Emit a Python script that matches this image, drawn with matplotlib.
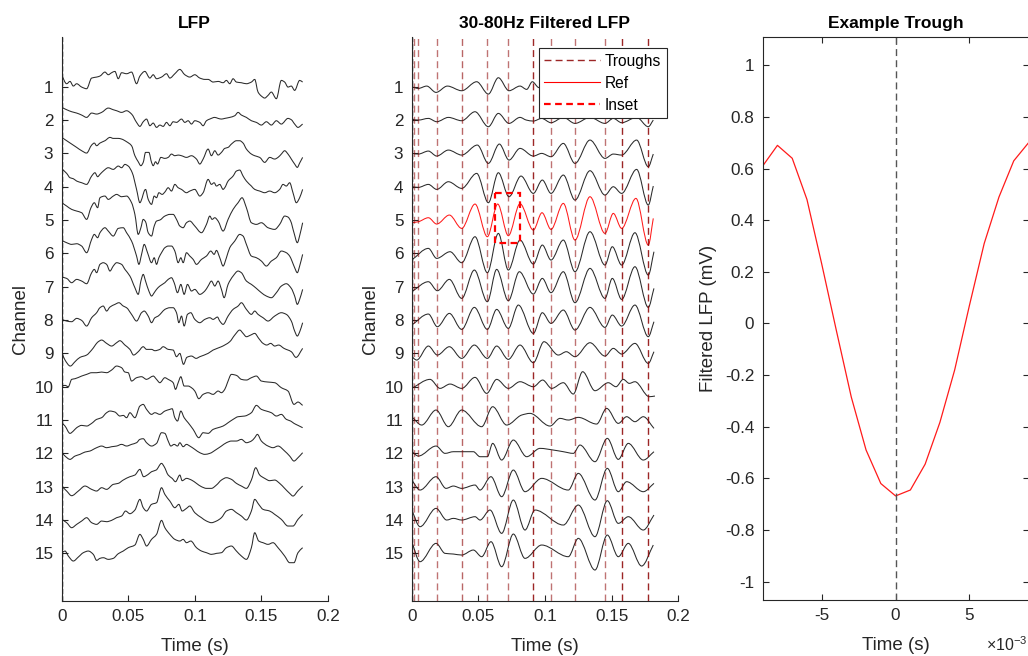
import numpy as np
import matplotlib.pyplot as plt
from matplotlib.path import Path
from matplotlib.patches import PathPatch, Rectangle
from matplotlib.lines import Line2D
from matplotlib.ticker import FuncFormatter

plt.rcParams['font.family'] = ['Liberation Sans', 'DejaVu Sans']
plt.rcParams['axes.unicode_minus'] = False
plt.rcParams['mathtext.default'] = 'regular'

# ---------------- data ----------------
channels = list(range(1, 16))
ref_channel = 5

# raw LFP knots: (time in ms, deflection in channel spacings, up = positive)
raw_01 = [(0, 0.34), (3.75, 0.09), (6.25, 0.16), (8.75, 0.02), (11.25, 0.09), (15, -0.01), (18.75, -0.06), (22.5, 0.26), (26.25, 0.29), (28.75, 0.32), (32.5, 0.44), (35, 0.36), (37.5, 0.42), (40, 0.46), (42.5, 0.24), (45, 0.42), (48.75, 0.39), (52.5, 0.44), (56.25, 0.09), (58.75, 0.32), (62.5, 0.46), (66.25, 0.26), (68.75, 0.36), (71.25, 0.24), (75, 0.29), (78.75, 0.39), (81.25, 0.26), (85, 0.39), (88.75, 0.52), (92.5, 0.36), (96.25, 0.29), (100, 0.36), (103.75, 0.26), (107.5, 0.22), (110, 0.22), (113.75, 0.14), (117.5, 0.16), (121.25, 0.12), (123.75, 0.19), (126.25, 0.09), (128.75, 0.24), (131.25, 0.14), (135, 0.12), (138.75, 0.09), (142.5, 0.14), (145, 0.22), (147.5, -0.16), (150, -0.28), (152.5, -0.34), (155, -0.26), (157.5, -0.16), (161.25, -0.36), (165, 0.19), (167.5, 0.14), (170, -0.01), (172.5, 0.02), (175, -0.11), (178.75, 0.19), (181, 0.14)]
raw_02 = [(0, 0.38), (3.75, 0.31), (7.5, 0.25), (11.25, 0.21), (15, 0.15), (18.75, 0.08), (22.5, 0.21), (26.25, 0.18), (30, 0.23), (35, 0.36), (38.75, 0.31), (41.25, 0.28), (45, 0.23), (48.75, 0.28), (52.5, 0.18), (56.25, -0.07), (58.75, -0.19), (61.25, -0.05), (63.75, 0.03), (66.25, -0.17), (68.75, -0.09), (71.25, -0.22), (73.75, -0.15), (76.25, -0.19), (78.75, -0.07), (81.25, -0.17), (83.75, -0.05), (86.25, -0.07), (90, 0.03), (92.5, -0.07), (95, -0.02), (97.5, -0.12), (100, -0.02), (103.75, -0.07), (106.25, -0.17), (108.75, -0.02), (111.25, 0.03), (115, 0.08), (117.5, 0.05), (120, 0.03), (122.5, 0.05), (126.25, 0.08), (130, 0.13), (132.5, 0.23), (135, 0.15), (138.75, 0.08), (142.5, -0.02), (146.25, -0.07), (150, -0.15), (153.75, -0.05), (157.5, -0.15), (161.25, -0.02), (165, -0.12), (170, 0.05), (172.5, 0.01), (175, -0.12), (177.5, -0.22), (181, -0.12)]
raw_03 = [(0, 0.48), (3.75, 0.38), (7.5, 0.28), (11.25, 0.18), (15, 0.08), (18.75, 0.01), (22.5, 0.25), (24.5, 0.31), (26.25, 0.23), (28.75, 0.31), (32.5, 0.38), (36.25, 0.48), (38.75, 0.45), (42.5, 0.45), (45, 0.43), (48.75, 0.35), (52.5, 0.23), (55, -0.07), (57.5, -0.25), (59.5, -0.37), (61.25, -0.27), (63, 0.03), (65.5, 0.03), (67.5, -0.27), (68.75, -0.37), (70.5, -0.25), (72, -0.32), (74.5, -0.12), (77.5, -0.15), (80, -0.12), (82.5, -0.02), (85, -0.07), (87.5, -0.05), (90, -0.07), (93.75, -0.12), (97.5, -0.07), (101.25, -0.17), (103.75, -0.32), (106.25, -0.17), (110, 0.13), (112.5, -0.07), (115, 0.08), (117.5, -0.05), (120, 0.03), (122.5, 0.15), (125, 0.18), (127.5, 0.28), (131.25, 0.38), (133.75, 0.38), (136.25, 0.31), (138.75, 0.13), (142.5, -0.02), (145, -0.07), (148.75, -0.12), (152.5, -0.27), (156.25, -0.12), (160, -0.17), (162.5, -0.12), (165, -0.02), (167.5, 0.08), (170, -0.02), (172.5, -0.17), (175, -0.32), (177, -0.42), (178.75, -0.29), (181, -0.12)]
raw_04 = [(0, 0.54), (3.75, 0.4), (6.25, 0.27), (8.75, 0.24), (11.25, 0.17), (15, 0.12), (18.75, 0.07), (22.5, 0.32), (25, 0.42), (27, 0.3), (28.75, 0.37), (31.25, 0.47), (35, 0.57), (38.75, 0.52), (42.5, 0.62), (45, 0.57), (47.5, 0.67), (50, 0.62), (53, 0.42), (56.25, -0.08), (58.75, -0.48), (60.5, -0.33), (62, -0.13), (63, -0.08), (65, -0.38), (67.5, -0.53), (69.5, -0.28), (71.25, -0.33), (73, -0.18), (75.5, -0.23), (77.5, -0.16), (80, -0.03), (82.5, -0.13), (85, 0.07), (87.5, -0.03), (90, -0.08), (93.75, -0.18), (96.25, -0.13), (100, -0.08), (103.75, -0.28), (106.25, -0.18), (110, 0.22), (112.5, 0.07), (114.5, 0.12), (116.25, 0.02), (118.75, 0.07), (121.25, -0.08), (122.5, -0.03), (125, 0.17), (128.75, 0.32), (131.25, 0.47), (133.75, 0.5), (136.25, 0.32), (138.75, 0.17), (142.5, 0.02), (145, -0.08), (148.75, -0.13), (152.5, -0.18), (156.25, -0.13), (160, -0.18), (163.75, -0.08), (166.25, 0.07), (168.75, 0.02), (171.25, 0.12), (173.75, -0.18), (176.25, -0.48), (178.75, -0.33), (181, -0.08)]
raw_05 = [(0, 0.52), (3.75, 0.42), (7.5, 0.32), (11.25, 0.27), (15, 0.22), (18.75, 0.02), (22, 0.37), (24.5, 0.52), (27, 0.37), (28.75, 0.67), (32.5, 0.72), (35, 0.62), (38.75, 0.72), (41.25, 0.77), (45, 0.7), (48.75, 0.72), (52.5, 0.52), (55, 0.17), (57.5, -0.43), (59.5, -0.23), (61.25, 0.02), (63, -0.05), (65, -0.38), (67.5, -0.48), (69.5, -0.18), (71.25, -0.03), (73.75, 0.0), (77.5, 0.12), (81.25, 0.17), (83.75, 0.17), (86.25, 0.02), (88.75, -0.18), (91.25, -0.23), (93.75, -0.08), (96.25, -0.03), (100, -0.18), (105, -0.38), (108.75, -0.13), (111.25, 0.12), (113, 0.02), (115, 0.07), (117.5, -0.03), (121.25, -0.33), (125, 0.02), (128.75, 0.32), (132.5, 0.52), (135.5, 0.67), (138.75, 0.37), (142.5, -0.08), (146.25, -0.13), (150, -0.08), (155, -0.23), (160, -0.28), (163.75, -0.13), (167.5, 0.12), (170, 0.09), (172, -0.03), (174.5, -0.38), (177, -0.68), (179, -0.43), (181, -0.08)]
raw_06 = [(0, 0.39), (3.75, 0.32), (7.5, 0.27), (11.25, 0.29), (15, 0.22), (18.75, 0.02), (22.5, 0.42), (24.5, 0.57), (27, 0.47), (28.75, 0.62), (32.5, 0.77), (35, 0.67), (38.75, 0.52), (42.5, 0.75), (46.25, 0.77), (48.75, 0.62), (52.5, 0.37), (56.25, -0.08), (58, -0.33), (60, -0.03), (62, 0.27), (64.5, 0.02), (67.5, -0.28), (69.5, -0.13), (71.25, -0.33), (73, -0.13), (75, 0.02), (77.5, 0.17), (80, 0.22), (82.5, 0.22), (85, 0.07), (87.5, -0.28), (89.5, -0.13), (91.25, -0.28), (93.75, 0.02), (96.25, -0.08), (98.75, -0.18), (101.25, -0.33), (105, -0.18), (108.75, -0.08), (112, 0.07), (114.5, -0.03), (116.25, 0.09), (118.75, -0.13), (121.25, -0.38), (123.75, -0.13), (126.25, 0.17), (130, 0.37), (133.75, 0.57), (136.25, 0.52), (138.75, 0.27), (142.5, -0.08), (146.25, -0.13), (150, -0.23), (153.75, -0.38), (157.5, -0.23), (161.25, -0.13), (165, 0.07), (168.75, 0.02), (171.25, -0.08), (173, -0.23), (175, -0.43), (177, -0.58), (178.75, -0.38), (181, -0.03)]
raw_07 = [(0, 0.29), (3.75, 0.25), (7.5, 0.12), (11.25, 0.22), (15, 0.17), (18.75, 0.09), (22.5, 0.42), (24.5, 0.52), (26.25, 0.42), (28.75, 0.67), (31.25, 0.72), (33.75, 0.67), (36.25, 0.47), (38.75, 0.62), (41.25, 0.72), (45, 0.67), (47.5, 0.52), (51.25, 0.32), (55, -0.03), (57.5, -0.23), (59.5, 0.17), (61.25, 0.37), (63, 0.17), (65.5, -0.13), (67.5, -0.28), (69.5, -0.18), (71.25, -0.08), (73.75, 0.02), (77.5, 0.12), (80, 0.22), (82.5, 0.27), (84.5, 0.12), (87, -0.18), (89.5, 0.07), (92, -0.23), (94.5, 0.07), (97.5, -0.13), (100, -0.08), (103.75, -0.23), (107.5, -0.13), (110, 0.02), (112.5, 0.17), (115, 0.02), (117.5, 0.17), (120, -0.08), (122, -0.33), (125, 0.07), (128.75, 0.32), (132.5, 0.47), (135, 0.42), (138.75, 0.17), (142.5, 0.07), (146.25, -0.05), (150, -0.18), (153.75, -0.28), (157.5, -0.33), (161.25, -0.18), (165, 0.02), (168.75, 0.09), (172.5, -0.05), (175, -0.28), (177, -0.53), (178.75, -0.38), (181, -0.08)]
raw_08 = [(0, 0.02), (3.75, -0.03), (7.5, -0.05), (11.25, 0.05), (15, -0.01), (18.75, -0.18), (22.5, 0.07), (26.25, 0.22), (28.75, 0.37), (31.25, 0.42), (33.75, 0.27), (36.25, 0.39), (40, 0.47), (43, 0.52), (46.25, 0.42), (48.75, 0.37), (52.5, 0.17), (56.25, -0.03), (60, 0.22), (62, 0.27), (65, 0.12), (67.5, -0.08), (70, 0.07), (72.5, 0.12), (75, 0.22), (77.5, 0.32), (81.25, 0.37), (83.75, 0.37), (86.25, 0.22), (88, -0.08), (90, 0.12), (92, -0.18), (94.5, 0.17), (97, 0.22), (100, 0.02), (103.75, -0.08), (107.5, 0.02), (111.25, 0.07), (113.75, 0.02), (117, 0.09), (118.75, -0.03), (121.25, -0.13), (125, 0.12), (128.75, 0.32), (132.5, 0.42), (135, 0.52), (138.75, 0.32), (142.5, 0.17), (145, 0.27), (147.5, 0.17), (151.25, 0.07), (155, -0.03), (160, 0.12), (165, 0.22), (168.75, 0.17), (172.5, -0.03), (175, -0.33), (177, -0.48), (179, -0.33), (181, -0.08)]
raw_09 = [(0, 0.03), (2.5, -0.2), (6.5, -0.38), (10, -0.25), (13.75, -0.12), (18.75, -0.05), (22.5, 0.1), (27.5, 0.35), (30, 0.4), (33.75, 0.3), (37.5, 0.22), (41.25, 0.32), (43.75, 0.38), (47.5, 0.25), (51.25, 0.12), (54, -0.05), (57.5, 0.05), (61.25, 0.2), (63.75, 0.12), (67.5, 0.12), (70, 0.08), (73.75, 0.12), (76.25, 0.2), (80, 0.12), (83.75, 0.1), (86.25, -0.1), (88.75, 0.0), (91.5, -0.33), (94, -0.12), (97.5, -0.08), (101, -0.15), (103.75, -0.1), (110, 0.0), (113.75, 0.1), (120, 0.2), (126.25, 0.35), (130, 0.55), (133.75, 0.7), (136.25, 0.6), (138.75, 0.5), (142, 0.55), (145, 0.6), (148, 0.45), (151.25, 0.3), (154, 0.25), (157, 0.3), (160, 0.22), (163, 0.25), (167, 0.15), (172.5, 0.05), (176, -0.12), (181, 0.15)]
raw_10 = [(0, 0.02), (2.5, 0.04), (5, 0.0), (7.5, 0.22), (10, 0.24), (15, 0.32), (18.75, 0.37), (22.5, 0.42), (26.25, 0.42), (30, 0.44), (33.75, 0.42), (37.5, 0.5), (41.25, 0.62), (45, 0.57), (47.5, 0.44), (50, 0.42), (52.5, 0.17), (56.25, 0.27), (60, 0.3), (63.75, 0.22), (66.25, 0.27), (68.75, 0.32), (71.25, 0.22), (73.75, 0.12), (77.5, 0.27), (80, 0.22), (83.75, 0.12), (85.5, -0.08), (87.5, 0.12), (89.5, 0.3), (92, 0.02), (95, 0.02), (97.5, -0.03), (100, -0.13), (103, -0.36), (106.25, -0.23), (110, -0.18), (113.75, -0.23), (117.5, -0.13), (120, -0.18), (122.5, -0.08), (124.5, 0.12), (127.5, 0.37), (131.25, 0.34), (135, 0.22), (138.75, 0.2), (142.5, 0.27), (146.25, 0.32), (150, 0.17), (155, 0.14), (160, 0.12), (165, -0.03), (170, -0.13), (174.5, -0.53), (177.5, -0.46), (181, -0.56)]
raw_11 = [(0, -0.08), (2.5, -0.18), (6.25, -0.4), (8.75, -0.33), (11.25, -0.23), (15, -0.16), (18.75, -0.18), (22.5, -0.1), (26.25, 0.02), (30, 0.07), (33.75, 0.22), (36.25, 0.27), (40, 0.24), (43.75, 0.12), (46.25, 0.14), (48.75, 0.07), (51.25, 0.22), (55, 0.07), (58.75, 0.42), (61.25, 0.47), (63.75, 0.32), (67.5, 0.17), (70, 0.22), (73.75, 0.17), (77.5, 0.27), (81.25, 0.32), (83, 0.34), (85, 0.07), (87, -0.03), (89.5, 0.27), (92, 0.07), (95, -0.08), (98.75, -0.28), (103, -0.53), (106.25, -0.38), (110, -0.4), (113.75, -0.28), (117.5, -0.23), (121.25, -0.18), (125, -0.08), (128.75, 0.02), (132.5, 0.1), (137.5, 0.12), (142.5, 0.22), (146.25, 0.44), (150, 0.32), (153.75, 0.27), (157.5, 0.22), (161.25, 0.12), (165, 0.17), (168.75, 0.02), (172, -0.03), (174.5, -0.1), (177.5, -0.16), (181, -0.23)]
raw_12 = [(0, 0.02), (2.5, -0.08), (6.25, -0.18), (10, -0.08), (13.75, -0.03), (17.5, 0.04), (21.25, 0.07), (23.75, 0.12), (26.25, 0.17), (30, 0.22), (33.75, 0.17), (37.5, 0.2), (41.25, 0.22), (45, 0.27), (48.75, 0.22), (52.5, 0.27), (56.25, 0.32), (58.75, 0.42), (61.25, 0.44), (63.75, 0.32), (67.5, 0.22), (71.25, 0.3), (75, 0.62), (77.5, 0.6), (80, 0.37), (82, 0.22), (84.5, 0.27), (87, 0.22), (88.75, 0.32), (91.25, 0.2), (93.75, 0.27), (96.25, 0.22), (100, 0.12), (103.75, 0.02), (107.5, -0.03), (111.25, 0.0), (116.25, 0.12), (120, 0.22), (123.75, 0.32), (127.5, 0.37), (131.25, 0.37), (135, 0.42), (138.75, 0.32), (142.5, 0.37), (145, 0.47), (147, 0.57), (150, 0.37), (155, 0.22), (158.75, 0.17), (162.5, 0.22), (167.5, 0.07), (171.25, -0.08), (174.5, -0.23), (177.5, -0.13), (181, 0.02)]
raw_13 = [(0, 0.02), (3.75, -0.13), (7.5, -0.27), (12.5, -0.13), (17.5, 0.02), (22.5, -0.08), (26.25, -0.13), (30, -0.03), (33.75, -0.08), (38.75, 0.07), (42.5, 0.1), (46.25, 0.2), (51.25, 0.3), (55, 0.35), (58.75, 0.52), (61.5, 0.3), (65, 0.37), (67.5, 0.45), (71, 0.5), (75, 0.7), (77, 0.6), (80, 0.35), (83, 0.25), (85.5, 0.15), (88.75, 0.35), (90.5, 0.18), (93.75, 0.25), (97.5, 0.2), (101.25, 0.1), (105, 0.0), (108.75, -0.05), (112.5, -0.05), (116.25, 0.05), (120, 0.2), (123.75, 0.27), (127.5, 0.22), (131.25, 0.1), (135, 0.02), (138.75, -0.05), (142.5, 0.2), (145.75, 0.57), (148.75, 0.35), (152.5, 0.25), (156.25, 0.18), (160, 0.2), (163.75, 0.1), (167.5, -0.05), (171.25, -0.2), (173.75, -0.28), (177.5, -0.12), (181, 0.02)]
raw_14 = [(0, 0.02), (3.75, -0.08), (7.5, -0.23), (11.25, -0.13), (15, -0.03), (18.75, 0.07), (22.5, -0.08), (26.25, -0.13), (30, -0.03), (33.75, -0.05), (37.5, -0.01), (41.25, 0.07), (45, 0.12), (48, 0.27), (51.25, 0.19), (55, 0.3), (58.75, 0.62), (61.25, 0.37), (63.75, 0.27), (67.5, 0.47), (71.25, 0.52), (75, 0.97), (77.5, 0.77), (81.25, 0.57), (85, 0.37), (88, 0.47), (90.5, 0.27), (93.75, 0.35), (96.25, 0.42), (100, 0.22), (105, 0.07), (108.75, -0.03), (112.5, -0.08), (116.25, -0.03), (120, 0.07), (123.75, 0.27), (127.5, 0.32), (131.25, 0.22), (135, 0.12), (138.75, 0.0), (142.5, 0.27), (145, 0.62), (148, 0.47), (151.25, 0.32), (156.25, 0.27), (160, 0.17), (165, 0.02), (170, -0.18), (173.75, -0.18), (177.5, 0.02), (181, 0.17)]
raw_15 = [(0, 0.02), (2.5, 0.07), (5, -0.08), (8.75, -0.23), (12.5, -0.11), (16.25, 0.02), (20, 0.07), (23.75, -0.03), (26.25, -0.21), (28.75, -0.15), (31.25, -0.13), (35, -0.18), (38.75, -0.15), (42.5, -0.01), (46.25, 0.07), (50, 0.17), (55, 0.25), (58.75, 0.57), (61.25, 0.42), (63.75, 0.22), (67.5, 0.42), (71.25, 0.57), (75, 0.99), (77.5, 0.77), (81.25, 0.57), (85, 0.42), (88.75, 0.37), (91.25, 0.42), (93.75, 0.32), (97, 0.37), (101.25, 0.17), (105, 0.07), (108.75, 0.02), (112.5, -0.03), (116.25, 0.0), (120, 0.02), (123.75, 0.17), (127.5, 0.22), (131.25, 0.07), (135, -0.08), (138.75, -0.18), (142.5, 0.17), (145, 0.62), (148, 0.37), (151.25, 0.32), (155, 0.27), (158.75, 0.32), (162.5, 0.17), (167.5, -0.08), (171.25, -0.28), (174.5, -0.28), (177.5, 0.02), (181, 0.17)]

# 30-80 Hz filtered LFP knots (peaks and troughs): (time ms, deflection)
filt_01 = [(0, 0.0), (5, -0.05), (11.25, 0.02), (18.25, -0.17), (26.75, 0.02), (37.5, -0.12), (48.75, 0.15), (57.5, -0.22), (65, 0.27), (73, -0.12), (81.25, 0.02), (86.25, -0.08), (90.5, 0.15), (95, -0.02), (104.5, -0.1), (113.75, 0.1), (122.5, -0.1), (133.75, 0.1), (145, -0.1), (151.25, 0.05), (157.5, -0.1), (167.5, 0.1), (177.5, -0.1), (181.25, 0.0)]
filt_02 = [(0, 0.02), (5, 0.0), (12.5, 0.05), (18.75, -0.05), (27.5, 0.08), (37.5, -0.02), (47.5, 0.25), (57.5, -0.2), (65, 0.2), (73, -0.1), (81.25, 0.08), (86, 0.0), (91.25, -0.03), (97.5, 0.05), (104.5, -0.08), (113.75, 0.08), (122.5, -0.1), (133.75, 0.08), (145, -0.1), (151.25, 0.05), (157.5, -0.08), (168.75, 0.08), (177.5, -0.2), (181.25, 0.0)]
filt_03 = [(0, 0.0), (5, -0.02), (12.5, 0.07), (18.75, -0.08), (27.5, 0.1), (37.5, -0.05), (49.25, 0.25), (57.5, -0.3), (65.75, 0.28), (73, -0.2), (81.25, 0.15), (91.25, -0.08), (97.5, 0.0), (104.5, -0.1), (113.75, 0.3), (122.5, -0.3), (133.75, 0.4), (145, -0.15), (151.25, -0.02), (157.5, -0.05), (168.75, 0.4), (177.5, -0.4), (181.25, -0.02)]
filt_04 = [(0, 0.0), (5, -0.02), (12.5, 0.07), (18.75, -0.08), (27.5, 0.15), (37.5, -0.05), (48.75, 0.4), (57.5, -0.48), (65, 0.42), (73, -0.3), (82, 0.32), (91.25, -0.2), (98, 0.2), (104.5, -0.2), (113.75, 0.35), (122.5, -0.4), (133.75, 0.48), (145, -0.25), (151.25, 0.0), (157.5, -0.2), (168.75, 0.52), (177.5, -0.55), (181.25, 0.02)]
filt_05 = [(0, -0.08), (5, -0.05), (12.5, 0.07), (18.75, -0.12), (28.25, 0.15), (37.5, -0.25), (47.5, 0.48), (56.75, -0.5), (64.5, 0.48), (72.5, -0.47), (81.25, 0.49), (91.25, -0.3), (97.75, 0.22), (104.5, -0.28), (113.75, 0.5), (122.5, -0.6), (133.75, 0.7), (145, -0.4), (151.25, 0.2), (157.5, -0.25), (168.25, 0.65), (177.5, -0.75), (181.25, 0.05)]
filt_06 = [(0, -0.2), (12.5, 0.15), (18.75, -0.15), (28.75, 0.05), (37.5, -0.28), (47.5, 0.5), (56.75, -0.58), (65, 0.6), (72.5, -0.5), (81.25, 0.4), (91.25, -0.32), (98, 0.25), (104.5, -0.2), (113.75, 0.4), (122.5, -0.55), (133.75, 0.65), (145, -0.35), (150.5, 0.2), (157.5, -0.35), (167.5, 0.62), (177.5, -0.65), (181.75, 0.05)]
filt_07 = [(0, -0.15), (12.5, 0.15), (19.25, -0.12), (28.25, 0.22), (37.5, -0.35), (47, 0.5), (56.75, -0.45), (63.75, 0.52), (72.5, -0.42), (80.75, 0.45), (91.25, -0.22), (98, 0.25), (104.5, -0.18), (113.75, 0.45), (122.5, -0.48), (133.75, 0.55), (145, -0.35), (150.5, 0.25), (157.5, -0.38), (167.5, 0.6), (177.5, -0.62), (181.75, -0.05)]
filt_08 = [(0, -0.15), (12.5, 0.18), (19.25, -0.2), (28.25, 0.2), (37.5, -0.28), (47, 0.38), (56.75, -0.28), (63.75, 0.32), (72.5, -0.25), (80, 0.45), (91.25, -0.4), (98, 0.22), (104.5, -0.1), (113.75, 0.3), (122.5, -0.3), (133.75, 0.38), (145, -0.22), (150.5, 0.15), (157.5, -0.18), (167.5, 0.45), (177.5, -0.5), (181.75, -0.05)]
filt_09 = [(0, -0.1), (3.75, -0.2), (12.5, 0.22), (19.25, -0.05), (28.25, 0.2), (37.5, -0.15), (47, 0.25), (56.75, -0.15), (63.75, 0.22), (72.5, -0.18), (81.25, 0.25), (91.25, -0.28), (99.25, 0.35), (110, -0.05), (116, 0.05), (122.5, -0.1), (133.75, 0.32), (145, -0.08), (151.25, 0.15), (157.5, -0.02), (167.5, 0.3), (177.5, -0.3), (181.75, 0.05)]
filt_10 = [(0, -0.05), (13.75, 0.22), (21.25, -0.05), (28.75, 0.08), (37.5, -0.05), (47.5, 0.28), (56.25, -0.2), (63.75, 0.22), (72.5, -0.05), (81.25, 0.15), (91.25, 0.0), (98.25, 0.2), (105, -0.05), (113.75, 0.12), (121.25, -0.22), (128.25, 0.45), (137.5, -0.12), (147.5, 0.12), (153.25, 0.0), (158.75, 0.22), (163.25, 0.1), (167.5, 0.15), (178.25, -0.3), (182.5, -0.28)]
filt_11 = [(0, 0.1), (7.5, -0.15), (18.25, 0.3), (27.5, -0.2), (37.5, 0.3), (52.5, -0.2), (60.75, 0.4), (71.25, -0.15), (82.5, 0.15), (88.75, 0.2), (103.75, -0.18), (111.25, 0.05), (117.5, 0.0), (125, 0.08), (138.75, -0.12), (146.25, 0.35), (155, -0.1), (161.25, 0.1), (167.5, -0.05), (173.75, 0.1), (181.75, -0.25)]
filt_12 = [(0, 0.05), (5, -0.08), (18.25, 0.22), (25, 0.0), (31.25, 0.05), (37.5, 0.05), (46.25, 0.05), (51.25, -0.1), (56.75, -0.1), (60.75, 0.3), (67.5, -0.2), (76.25, 0.4), (86.25, -0.1), (96.25, 0.15), (106.25, 0.1), (113.75, 0.05), (121.25, 0.0), (126.25, 0.25), (137.5, -0.25), (146.75, 0.45), (155, -0.18), (162.5, 0.3), (173.75, -0.2), (181.75, 0.05)]
filt_13 = [(0, 0.2), (6.25, -0.1), (18.25, 0.3), (25.75, -0.05), (31.25, 0.02), (37.5, -0.05), (47.5, 0.05), (51.25, -0.1), (59.5, 0.3), (67.5, -0.3), (76.25, 0.5), (85, -0.15), (97.5, 0.25), (117.5, -0.1), (125, 0.4), (137.5, -0.4), (146.75, 0.55), (155, -0.15), (161.25, 0.15), (173.75, -0.15), (181.75, 0.1)]
filt_14 = [(0, 0.3), (6.25, -0.2), (18.25, 0.35), (26.25, 0.0), (31.25, 0.05), (37.5, 0.0), (47.5, 0.1), (51.25, 0.0), (58.75, 0.3), (67.5, -0.4), (76.25, 0.6), (85, -0.3), (92.5, 0.3), (113.75, -0.15), (125, 0.45), (137.5, -0.5), (146.75, 0.58), (155, -0.1), (162.5, 0.1), (173.75, -0.3), (181.75, 0.15)]
filt_15 = [(0, 0.35), (6.25, -0.25), (18.25, 0.3), (25, 0.0), (31.25, -0.02), (37.5, -0.05), (46.25, 0.1), (52.5, -0.1), (59.5, 0.35), (67.5, -0.4), (76.25, 0.58), (85, -0.15), (97.5, 0.25), (117.5, -0.1), (125, 0.45), (137.5, -0.5), (146.75, 0.55), (155, -0.1), (162.5, 0.3), (172.5, -0.38), (181.25, 0.25)]

raw_traces = [raw_01, raw_02, raw_03, raw_04, raw_05, raw_06, raw_07, raw_08,
              raw_09, raw_10, raw_11, raw_12, raw_13, raw_14, raw_15]
filt_traces = [filt_01, filt_02, filt_03, filt_04, filt_05, filt_06, filt_07, filt_08,
               filt_09, filt_10, filt_11, filt_12, filt_13, filt_14, filt_15]

# detected troughs of the reference channel (ms)
trough_ms = [2.0, 5.0, 18.75, 37.5, 56.75, 72.5, 91.25, 104.5, 122.5, 145.0, 157.5, 177.5]
trough_alpha = [0.55, 0.55, 0.55, 0.6, 0.55, 0.55, 0.85, 0.55, 0.55, 0.55, 0.85, 0.85]

# inset window (time s, channel)
inset_t = (0.0625, 0.081)
inset_ch = (4.2, 5.7)

# example trough, 1 kHz samples around t = 0
trough_t_ms = [-9, -8, -7, -6, -5, -4, -3, -2, -1, 0, 1, 2, 3, 4, 5, 6, 7, 8, 9]
trough_mv = [0.61, 0.69, 0.64, 0.48, 0.23, -0.03, -0.285, -0.49, -0.62, -0.668,
             -0.645, -0.545, -0.383, -0.18, 0.07, 0.31, 0.49, 0.63, 0.70]

AX_COL = '#262626'
TICK_FS = 12.3
LABEL_FS = 13.5
TITLE_FS = 12.5


def trace_path(knots, chan):
    # smooth monotone cubic through the knots, drawn as bezier path
    t = np.array([k[0] for k in knots]) / 1000.0
    y = chan - np.array([k[1] for k in knots])
    h = np.diff(t)
    d = np.diff(y) / h
    m = np.zeros(len(t))
    m[0], m[-1] = d[0], d[-1]
    for i in range(1, len(t) - 1):
        if d[i - 1] * d[i] > 0:
            w1 = 2 * h[i] + h[i - 1]
            w2 = h[i] + 2 * h[i - 1]
            m[i] = (w1 + w2) / (w1 / d[i - 1] + w2 / d[i])
    verts = [(t[0], y[0])]
    for i in range(len(h)):
        verts += [(t[i] + h[i] / 3, y[i] + m[i] * h[i] / 3),
                  (t[i + 1] - h[i] / 3, y[i + 1] - m[i + 1] * h[i] / 3),
                  (t[i + 1], y[i + 1])]
    codes = [Path.MOVETO] + [Path.CURVE4] * (3 * len(h))
    return Path(verts, codes)


def style_axes(ax, box=False):
    for s in ['left', 'bottom', 'top', 'right']:
        ax.spines[s].set_color(AX_COL)
        ax.spines[s].set_linewidth(0.8)
    if not box:
        ax.spines['top'].set_visible(False)
        ax.spines['right'].set_visible(False)
    ax.tick_params(direction='in', length=4, width=0.8, colors=AX_COL,
                   labelsize=TICK_FS, top=box, right=box, pad=6)


fmt = FuncFormatter(lambda v, p: '%g' % v)

fig = plt.figure(figsize=(10.28, 6.56), dpi=100)
ax1 = fig.add_axes([0.0600, 0.0838, 0.2590, 0.8602])
ax2 = fig.add_axes([0.4005, 0.0838, 0.2593, 0.8602])
ax3 = fig.add_axes([0.7419, 0.0854, 0.2586, 0.8587])

# ---- LFP ----
for ch, knots in zip(channels, raw_traces):
    ax1.add_patch(PathPatch(trace_path(knots, ch), fill=False, ec='#2a2a2a', lw=0.75))
ax1.axvline(0, color='k', ls='--', lw=1.0)

# ---- filtered LFP ----
for ch, knots in zip(channels, filt_traces):
    col = '#ff1a1a' if ch == ref_channel else '#2a2a2a'
    ax2.add_patch(PathPatch(trace_path(knots, ch), fill=False, ec=col, lw=0.75))
ax2.axvline(0, color='k', ls='--', lw=1.0)
for tm, a in zip(trough_ms, trough_alpha):
    ax2.axvline(tm / 1000.0, color='#8b0000', alpha=a, ls=(0, (5, 3)), lw=1.0)
ax2.add_patch(Rectangle((inset_t[0], inset_ch[0]), inset_t[1] - inset_t[0],
                        inset_ch[1] - inset_ch[0], fill=False, ec='r',
                        ls=(0, (3, 2)), lw=1.6, zorder=4))

handles = [Line2D([], [], color='#8b0000', alpha=0.85, ls=(0, (5, 3)), lw=1.0),
           Line2D([], [], color='r', lw=0.8),
           Line2D([], [], color='r', ls=(0, (3, 2)), lw=1.6)]
leg = ax2.legend(handles, ['Troughs', 'Ref', 'Inset'], loc='upper right',
                 fontsize=11.2, frameon=True, fancybox=False, framealpha=1,
                 edgecolor=AX_COL, handlelength=3.6, handletextpad=0.3,
                 borderaxespad=0.75, borderpad=0.35, labelspacing=0.45)
leg.get_frame().set_linewidth(0.8)
leg.set_zorder(10)

for ax, title in [(ax1, 'LFP'), (ax2, '30-80Hz Filtered LFP')]:
    ax.set_xlim(0, 0.2)
    ax.set_ylim(16.43, -0.5)
    ax.set_xticks([0, 0.05, 0.1, 0.15, 0.2])
    ax.xaxis.set_major_formatter(fmt)
    ax.set_yticks(channels)
    ax.set_xlabel('Time (s)', fontsize=LABEL_FS, color=AX_COL, labelpad=10)
    ax.set_ylabel('Channel', fontsize=LABEL_FS, color=AX_COL, labelpad=4)
    ax.set_title(title, fontsize=TITLE_FS, fontweight='bold', pad=6)
    style_axes(ax)

# ---- example trough ----
ax3.plot(np.array(trough_t_ms) / 1000.0, trough_mv, color='#ff1a1a', lw=0.9)
ax3.axvline(0, color='#555555', ls=(0, (5, 3)), lw=1.0)
ax3.set_xlim(-0.009, 0.009)
ax3.set_ylim(-1.071, 1.111)
ax3.set_xticks([-0.005, 0, 0.005])
ax3.xaxis.set_major_formatter(FuncFormatter(lambda v, p: '%g' % round(v * 1000, 6)))
ax3.set_yticks([-1, -0.8, -0.6, -0.4, -0.2, 0, 0.2, 0.4, 0.6, 0.8, 1])
ax3.yaxis.set_major_formatter(fmt)
ax3.set_xlabel('Time (s)', fontsize=LABEL_FS, color=AX_COL, labelpad=10)
ax3.set_ylabel('Filtered LFP (mV)', fontsize=LABEL_FS, color=AX_COL, labelpad=6)
ax3.set_title('Example Trough', fontsize=TITLE_FS, fontweight='bold', pad=6)
ax3.text(0.995, -0.096, r'$\times10^{-3}$', transform=ax3.transAxes, ha='right',
         va='bottom', fontsize=11.5, color=AX_COL)
style_axes(ax3, box=True)

fig.savefig('out.png', dpi=100)
